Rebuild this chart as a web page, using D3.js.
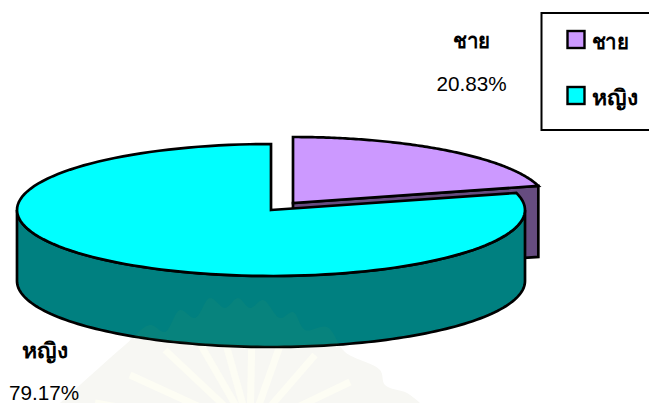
<!DOCTYPE html>
<html><head><meta charset="utf-8">
<script src="https://cdn.jsdelivr.net/npm/d3@7"></script>
<style>html,body{margin:0;background:#fff}svg{display:block}text{font-family:"Liberation Sans",Arial,sans-serif;fill:#000}</style>
</head><body><svg id="c" width="649" height="403"></svg>
<script>
const categories = ["ชาย", "หญิง"];
const values = [20.83, 79.17];
const valueLabels = ["20.83%", "79.17%"];
const topColors = ["#cc99ff", "#00ffff"];
const sideColors = ["#664c80", "#008080"];

const svg = d3.select("#c");
const cx = 271, cy = 210, rx = 254, ry = 66, depth = 71;
const explode = [[22, -7], [0, 0]];
const slices = d3.pie().sort(null)(values);
const project = (a, o, dy = 0) => [cx + o[0] + rx * Math.sin(a), cy + o[1] + dy - ry * Math.cos(a)];
const line = d3.line();
const arcPts = (a0, a1, o, dy = 0) => d3.range(0, 121).map(i => project(a0 + (a1 - a0) * i / 120, o, dy));
function draw(pts, fill) {
  return svg.append("path").attr("d", line(pts) + "Z").attr("fill", fill)
    .attr("stroke", "#000").attr("stroke-width", 2.7).attr("stroke-linejoin", "miter");
}
// faint scanned watermark behind the lower part of the page
const wm = [[60,403],[100,367],[125,345],[150,325],[165,332],[180,310],[195,318],[210,298],[225,308],[238,298],[250,308],[263,300],[280,318],[293,312],[305,330],[327,327],[345,352],[380,370],[385,385],[407,393],[420,403]];
const wmPath = d3.line().curve(d3.curveCatmullRom)(wm) + "Z";
svg.append("path").attr("d", wmPath).attr("fill", "#f7f7f3");
const rayEnds = [[95,403],[130,375],[165,350],[195,335],[222,330],[252,330],[282,340],[315,355],[350,382]];
rayEnds.forEach(r => svg.append("line").attr("x1", 250).attr("y1", 430).attr("x2", r[0]).attr("y2", r[1])
  .attr("stroke", "#fdfdf4").attr("stroke-width", 7));

// exploded slice: cut face then top
const s0 = slices[0], o0 = explode[0];
const c0 = [cx + o0[0], cy + o0[1]], tip = project(s0.endAngle, o0);
draw([c0, tip, [tip[0], tip[1] + depth], [c0[0], c0[1] + depth]], sideColors[0]);
draw([c0, ...arcPts(s0.startAngle, s0.endAngle, o0)], topColors[0]);
// main slice: rim then top
const s1 = slices[1], o1 = explode[1];
const rimPts = [...arcPts(Math.PI / 2, 3 * Math.PI / 2, o1), ...arcPts(3 * Math.PI / 2, Math.PI / 2, o1, depth)];
draw(rimPts, sideColors[1]);
draw([[cx, cy], ...arcPts(s1.startAngle, s1.endAngle, o1)], topColors[1]);
// watermark showing faintly through the teal rim
svg.append("clipPath").attr("id", "rimClip").append("path").attr("d", line(rimPts) + "Z");
svg.append("path").attr("d", wmPath).attr("fill", "#40a060").attr("opacity", 0.1).attr("clip-path", "url(#rimClip)");

// data labels
const lab = [[471.5, 48, 91, 37], [45, 358, 400, 46]];
categories.forEach((c, i) => {
  svg.append("text").attr("x", lab[i][0]).attr("y", lab[i][1]).attr("text-anchor", "middle")
    .attr("font-size", 21).attr("font-weight", "bold")
    .attr("textLength", lab[i][3]).attr("lengthAdjust", "spacingAndGlyphs").text(c);
  svg.append("text").attr("x", i ? 44 : lab[i][0]).attr("y", lab[i][2]).attr("text-anchor", "middle")
    .attr("font-size", 20.7).text(valueLabels[i]);
});
// legend
svg.append("rect").attr("x", 541.5).attr("y", 13).attr("width", 120).attr("height", 117)
  .attr("fill", "#fff").attr("stroke", "#000").attr("stroke-width", 2);
categories.forEach((c, i) => {
  const y = 31 + i * 56;
  svg.append("rect").attr("x", 567.5).attr("y", y).attr("width", 17).attr("height", 17)
    .attr("fill", topColors[i]).attr("stroke", "#000").attr("stroke-width", 2.4);
  svg.append("text").attr("x", 591.5).attr("y", y + 18).attr("font-size", 21).attr("font-weight", "bold")
    .attr("textLength", lab[i][3]).attr("lengthAdjust", "spacingAndGlyphs").text(c);
});
</script></body></html>
